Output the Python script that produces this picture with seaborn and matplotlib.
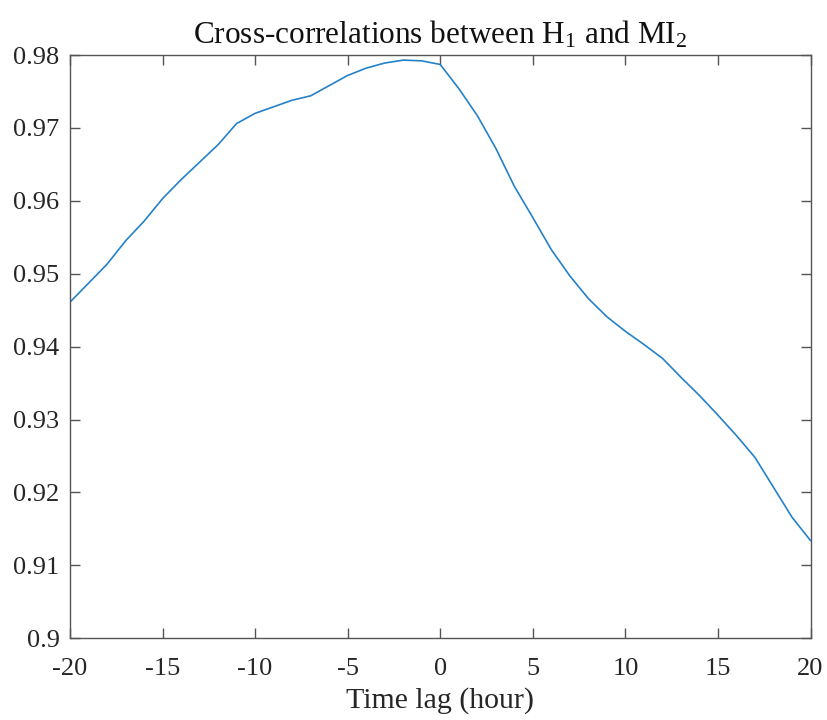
import numpy as np
import pandas as pd
import seaborn as sns
import matplotlib
matplotlib.use("Agg")
import matplotlib.pyplot as plt

# time lags (hours) and cross-correlation values
lags = list(range(-20, 21))
corr = [
    0.9461, 0.9487, 0.9513, 0.9545, 0.9572, 0.9603, 0.9629, 0.9653, 0.9677,
    0.9706, 0.9720, 0.9729, 0.9738, 0.9744, 0.9758, 0.9772, 0.9782, 0.9789,
    0.9793, 0.9792, 0.9787,
    0.9754, 0.9717, 0.9672, 0.9620, 0.9577, 0.9533, 0.9497, 0.9466, 0.9441,
    0.9421, 0.9403, 0.9384, 0.9358, 0.9333, 0.9306, 0.9278, 0.9248, 0.9207,
    0.9166, 0.9134,
]
x_ticks = [-20, -15, -10, -5, 0, 5, 10, 15, 20]
y_ticks = [0.9, 0.91, 0.92, 0.93, 0.94, 0.95, 0.96, 0.97, 0.98]
y_ticklabels = ["0.9", "0.91", "0.92", "0.93", "0.94", "0.95", "0.96", "0.97", "0.98"]

df = pd.DataFrame({"Time lag (hour)": lags, "corr": corr})

sns.set_style("ticks")
plt.rcParams["font.family"] = ["Liberation Serif", "DejaVu Serif"]
plt.rcParams["mathtext.fontset"] = "custom"
plt.rcParams["mathtext.rm"] = "Liberation Serif"
plt.rcParams["mathtext.it"] = "Liberation Serif:italic"

fig = plt.figure(figsize=(8.27, 7.2), dpi=100)
ax = fig.add_axes([0.0846, 0.1135, 0.8955, 0.8101])

sns.lineplot(data=df, x="Time lag (hour)", y="corr", color="#2581C8",
             linewidth=1.2, ax=ax)

ax.set_xlim(-20, 20)
ax.set_ylim(0.9, 0.98)
ax.set_xticks(x_ticks)
ax.set_xticklabels([str(t) for t in x_ticks])
ax.set_yticks(y_ticks)
ax.set_yticklabels(y_ticklabels)
ax.set_xlabel("Time lag (hour)", fontsize=21.5, color="#262626", labelpad=5)
ax.set_ylabel("")
ax.set_title("Cross-correlations between H$_1$ and MI$_2$", fontsize=22.5,
             color="#111111", pad=8)

ax.tick_params(direction="in", length=7, width=1, colors="#555555",
               labelcolor="#262626", labelsize=19, top=True, right=True)
ax.tick_params(axis="x", pad=14)
ax.tick_params(axis="y", pad=7.5)
for s in ax.spines.values():
    s.set_color("#555555")
    s.set_linewidth(1)

fig.savefig("out.png", dpi=100)
